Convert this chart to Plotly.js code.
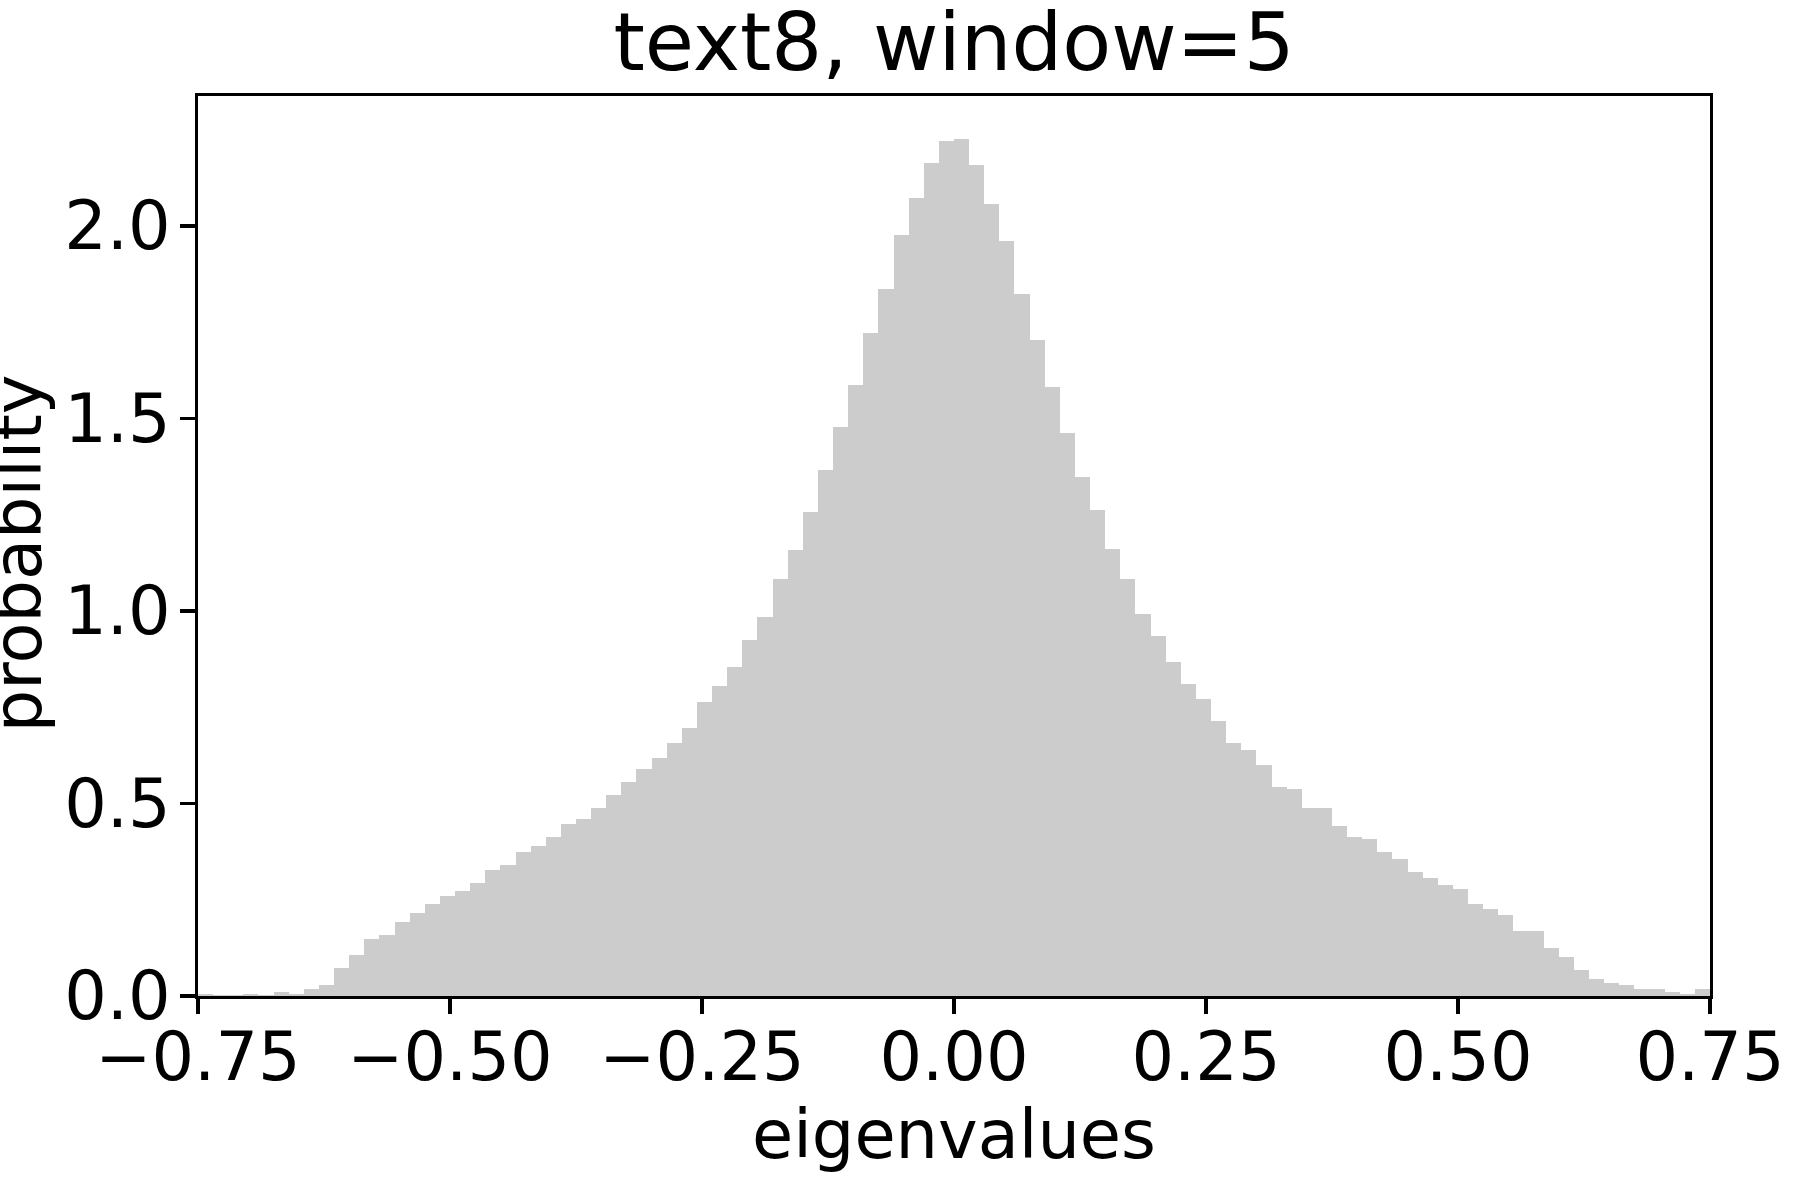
<!DOCTYPE html>
<html>
<head>
<meta charset="utf-8">
<script src="https://cdn.plot.ly/plotly-3.0.1.min.js"></script>
<style>
  html, body { margin: 0; padding: 0; background: #ffffff; }
  #chart { width: 1800px; height: 1200px; }
</style>
</head>
<body>
<div id="chart"></div>
<script>
// Histogram of eigenvalues: 100 bins of width 0.015 from -0.75 to 0.75
const binStart = -0.75;
const binWidth = 0.015;
const probability = [
  0.004, 0.002, 0.002, 0.005, 0.002, 0.010, 0.004, 0.018, 0.029, 0.073,
  0.107, 0.148, 0.158, 0.192, 0.216, 0.239, 0.260, 0.273, 0.294, 0.327,
  0.340, 0.374, 0.390, 0.413, 0.447, 0.460, 0.488, 0.522, 0.556, 0.590,
  0.618, 0.657, 0.696, 0.764, 0.805, 0.855, 0.925, 0.984, 1.083, 1.157,
  1.257, 1.366, 1.478, 1.587, 1.722, 1.836, 1.977, 2.073, 2.164, 2.221,
  2.226, 2.158, 2.057, 1.961, 1.823, 1.704, 1.582, 1.462, 1.348, 1.262,
  1.161, 1.083, 0.992, 0.935, 0.868, 0.810, 0.771, 0.714, 0.657, 0.639,
  0.600, 0.543, 0.538, 0.488, 0.488, 0.442, 0.413, 0.408, 0.374, 0.356,
  0.322, 0.306, 0.288, 0.278, 0.239, 0.226, 0.210, 0.169, 0.169, 0.125,
  0.101, 0.068, 0.044, 0.034, 0.029, 0.018, 0.018, 0.010, 0.004, 0.018
];
const xTickValues = [-0.75, -0.5, -0.25, 0, 0.25, 0.5, 0.75];
const xTickLabels = ["\u22120.75", "\u22120.50", "\u22120.25", "0.00", "0.25", "0.50", "0.75"];
const yTickValues = [0, 0.5, 1.0, 1.5, 2.0];
const yTickLabels = ["0.0", "0.5", "1.0", "1.5", "2.0"];
const titleText = "text8, window=5";
const xLabel = "eigenvalues";
const yLabel = "probability";

const binCenters = probability.map((_, i) => binStart + binWidth * (i + 0.5));
const yMax = Math.max(...probability) * 1.05;

const FONT = "DejaVu Sans, sans-serif";

const trace = {
  type: "bar",
  x: binCenters,
  y: probability,
  width: binWidth,
  marker: { color: "#cccccc", line: { width: 0 } },
  hoverinfo: "x+y"
};

const axisCommon = {
  showline: true,
  linecolor: "#000000",
  linewidth: 3.3,
  mirror: true,
  showgrid: false,
  zeroline: false,
  ticks: "outside",
  ticklen: 14.6,
  tickwidth: 3.3,
  tickcolor: "#000000",
  tickfont: { family: FONT, size: 67, color: "#000000" },
  automargin: false
};

const layout = {
  width: 1800,
  height: 1200,
  paper_bgcolor: "#ffffff",
  plot_bgcolor: "#ffffff",
  margin: { l: 198, r: 90, t: 96, b: 204 },
  bargap: 0,
  showlegend: false,
  title: {
    text: titleText,
    font: { family: FONT, size: 80, color: "#000000" },
    xref: "paper",
    x: 0.5,
    xanchor: "center",
    yref: "container",
    y: 1 - 70 / 1200,
    yanchor: "bottom"
  },
  xaxis: Object.assign({}, axisCommon, {
    range: [-0.75, 0.75],
    tickmode: "array",
    tickvals: xTickValues,
    ticktext: xTickLabels,
    ticklabelstandoff: -14,
    title: { text: xLabel, font: { family: FONT, size: 67, color: "#000000" }, standoff: 14 }
  }),
  yaxis: Object.assign({}, axisCommon, {
    range: [0, yMax],
    tickmode: "array",
    tickvals: yTickValues,
    ticktext: yTickLabels,
    ticklabelstandoff: -4
  }),
  annotations: [{
    text: yLabel,
    textangle: -90,
    font: { family: FONT, size: 67, color: "#000000" },
    xref: "paper",
    yref: "paper",
    x: -0.119,
    y: 0.491,
    xanchor: "center",
    yanchor: "middle",
    showarrow: false
  }]
};

Plotly.newPlot("chart", [trace], layout, { displayModeBar: false, staticPlot: true });
</script>
</body>
</html>
